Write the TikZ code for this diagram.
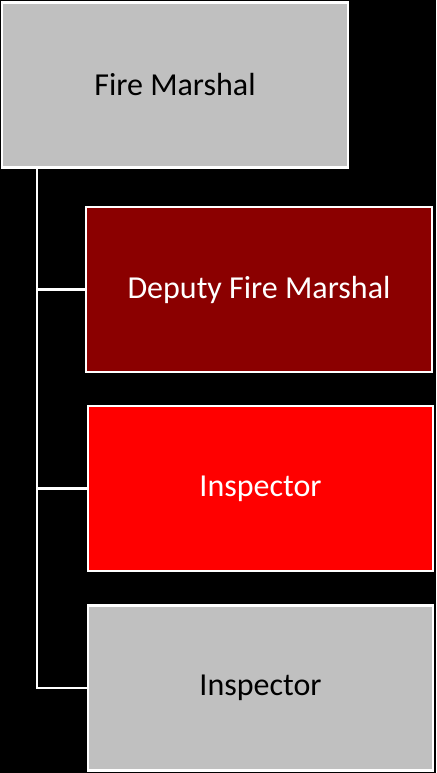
\documentclass[tikz,border=0pt]{standalone}
\usepackage{fontspec}
\setmainfont{Carlito}
\usetikzlibrary{positioning}

\tikzset{
	post/.style={draw=white, line width=2.5pt, inner sep=0pt, minimum width=346pt, minimum height=165pt, font=\fontsize{32}{38}\selectfont},
	greypost/.style={post, fill={rgb,255:red,192;green,192;blue,192}, text=black},
	darkpost/.style={post, fill={rgb,255:red,139;green,0;blue,0}, text=white},
	redpost/.style={post, fill={rgb,255:red,255;green,0;blue,0}, text=white},
	link/.style={draw=white, line width=2.5pt}
}

\begin{document}
\begin{tikzpicture}[x=1pt, y=-1pt]
	
	\fill [black] (0,0) rectangle (436,773);
	\useasboundingbox (0,0) rectangle (436,773);
	
	\node [greypost] (marshal) at (175,85) {Fire Marshal};
	\node [darkpost] (deputy) at (259,289.5) {Deputy Fire Marshal};
	\node [redpost, minimum width=345pt] (inspA) at (260.5,488.5) {Inspector};
	\node [greypost, minimum width=345pt] (inspB) at (260.5,688) {Inspector};
	
	\coordinate (spine) at (37,0);
	
	\draw [link] (spine |- marshal.south) |- (deputy.west);
	\draw [link] (spine |- marshal.south) |- (inspA.west);
	\draw [link] (spine |- marshal.south) |- (inspB.west);
	
\end{tikzpicture}
\end{document}
